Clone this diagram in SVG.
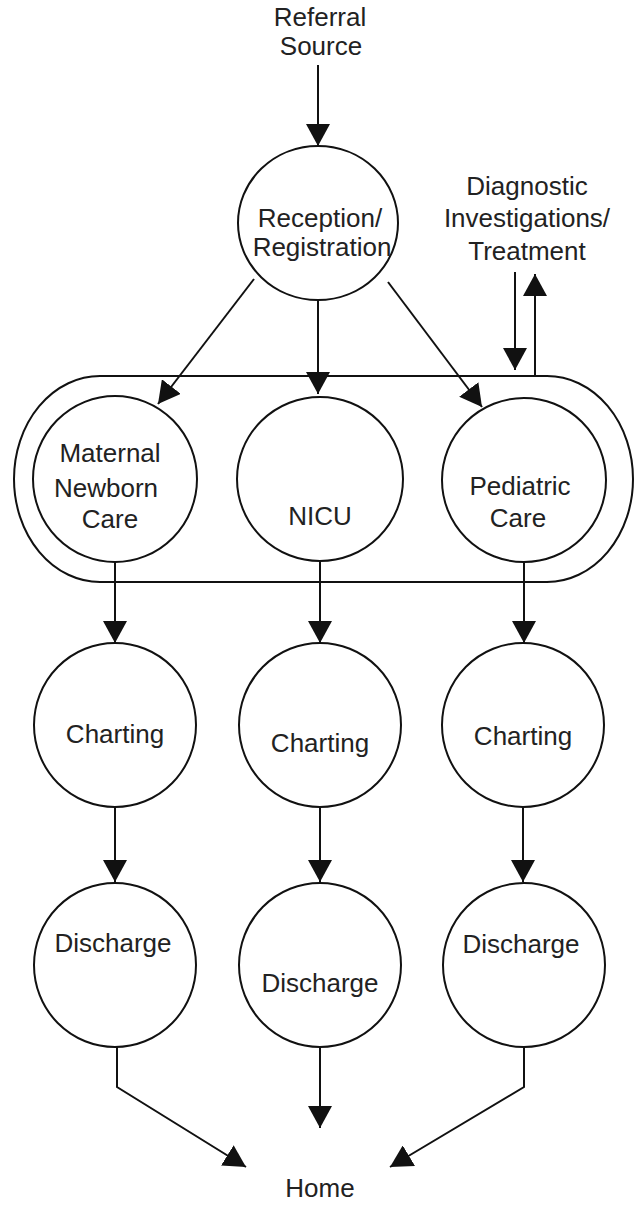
<svg xmlns="http://www.w3.org/2000/svg" width="642" height="1205" viewBox="0 0 642 1205">
<style>
.n{fill:#fff;stroke:#111;stroke-width:2}
.c{fill:none;stroke:#111;stroke-width:2}
text{font-family:"Liberation Sans",Arial,sans-serif;font-size:26px;fill:#222;text-anchor:middle}
</style>
<defs>
<marker id="ah" markerUnits="userSpaceOnUse" markerWidth="22" markerHeight="24" viewBox="0 0 22 24" refX="22" refY="12" orient="auto">
<path d="M0,0 L22,12 L0,24 z" fill="#111"/>
</marker>
</defs>
<g id="group-container">
<rect class="n" x="14" y="376" width="619" height="206" rx="86" ry="103"/>
</g>
<g id="referral"><text x="320" y="26">Referral</text><text x="321" y="55">Source</text></g>
<g id="reception"><ellipse class="n" cx="318" cy="223" rx="80" ry="77"/><text x="320" y="227">Reception/</text><text x="322" y="256">Registration</text></g>
<g id="diagnostic"><text x="527" y="195">Diagnostic</text><text x="527" y="227">Investigations/</text><text x="527" y="260">Treatment</text></g>
<g id="maternal"><ellipse class="n" cx="115" cy="479" rx="82" ry="83"/><text x="110" y="462">Maternal</text><text x="106" y="497">Newborn</text><text x="110" y="528">Care</text></g>
<g id="nicu"><ellipse class="n" cx="320" cy="479" rx="83" ry="82"/><text x="320" y="525">NICU</text></g>
<g id="pediatric"><ellipse class="n" cx="524" cy="480" rx="82" ry="82"/><text x="520" y="495">Pediatric</text><text x="518" y="527">Care</text></g>
<g id="charting1"><ellipse class="n" cx="115" cy="725" rx="81" ry="82"/><text x="115" y="743">Charting</text></g>
<g id="charting2"><ellipse class="n" cx="320" cy="725" rx="81" ry="82"/><text x="320" y="752">Charting</text></g>
<g id="charting3"><ellipse class="n" cx="523" cy="725" rx="81" ry="82"/><text x="523" y="745">Charting</text></g>
<g id="discharge1"><ellipse class="n" cx="115" cy="965" rx="81" ry="82"/><text x="113" y="952">Discharge</text></g>
<g id="discharge2"><ellipse class="n" cx="320" cy="965" rx="81" ry="82"/><text x="320" y="992">Discharge</text></g>
<g id="discharge3"><ellipse class="n" cx="524" cy="965" rx="81" ry="82"/><text x="521" y="953">Discharge</text></g>
<g id="home"><text x="320" y="1197">Home</text></g>
<g id="connectors">
<line class="c" x1="318" y1="65" x2="318" y2="146" marker-end="url(#ah)"/>
<line class="c" x1="254" y1="279" x2="158" y2="404" marker-end="url(#ah)"/>
<line class="c" x1="318" y1="300" x2="318" y2="394" marker-end="url(#ah)"/>
<line class="c" x1="388" y1="282" x2="482" y2="407" marker-end="url(#ah)"/>
<line class="c" x1="515" y1="272" x2="515" y2="370" marker-end="url(#ah)"/>
<line class="c" x1="535" y1="375" x2="535" y2="274" marker-end="url(#ah)"/>
<line class="c" x1="115" y1="562" x2="115" y2="643" marker-end="url(#ah)"/>
<line class="c" x1="320" y1="561" x2="320" y2="643" marker-end="url(#ah)"/>
<line class="c" x1="524" y1="562" x2="524" y2="643" marker-end="url(#ah)"/>
<line class="c" x1="115" y1="807" x2="115" y2="882" marker-end="url(#ah)"/>
<line class="c" x1="320" y1="807" x2="320" y2="882" marker-end="url(#ah)"/>
<line class="c" x1="523" y1="807" x2="523" y2="882" marker-end="url(#ah)"/>
<polyline class="c" points="117,1047 117,1087 246,1167" marker-end="url(#ah)"/>
<line class="c" x1="320" y1="1047" x2="320" y2="1128" marker-end="url(#ah)"/>
<polyline class="c" points="524,1047 524,1087 390,1167" marker-end="url(#ah)"/>
</g>
</svg>
